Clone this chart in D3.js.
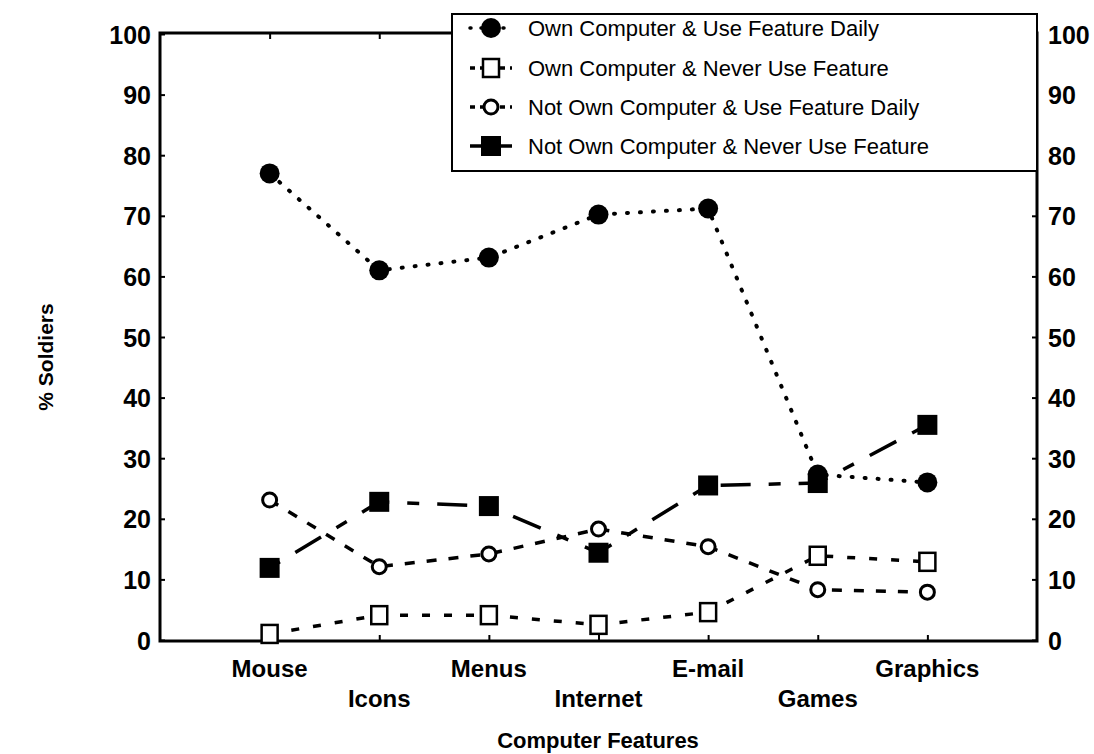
<!DOCTYPE html>
<html><head><meta charset="utf-8">
<script src="https://cdn.jsdelivr.net/npm/d3@7"></script>
<style>
body{margin:0;background:#fff;}
text{font-family:"Liberation Sans",Arial,sans-serif;fill:#000;}
</style></head>
<body><svg id="c" width="1094" height="754"></svg>
<script>
const categories = ["Mouse","Icons","Menus","Internet","E-mail","Games","Graphics"];
const yTicks = [0,10,20,30,40,50,60,70,80,90,100];
const seriesNames = [
  "Own Computer & Use Feature Daily",
  "Own Computer & Never Use Feature",
  "Not Own Computer & Use Feature Daily",
  "Not Own Computer & Never Use Feature"
];
const ownDaily    = [77.0, 61.0, 63.1, 70.2, 71.2, 27.3, 26.0];
const ownNever    = [1.0, 4.1, 4.1, 2.5, 4.6, 13.9, 12.9];
const notOwnDaily = [23.1, 12.1, 14.2, 18.3, 15.4, 8.3, 7.9];
const notOwnNever = [11.9, 22.8, 22.1, 14.4, 25.5, 25.9, 35.5];

const svg = d3.select("#c");
const L=160, R=1037, T=33, B=641;
const x = d3.scalePoint().domain(categories).range([L,R]).padding(1);
const y = d3.scaleLinear().domain([0,100]).range([640,34]);

const styles = [
  {data:ownDaily, marker:"circleF", dash:"1,12", width:4, cap:"round"},
  {data:ownNever, marker:"squareO", dash:"8,14", width:3.5, cap:"butt"},
  {data:notOwnDaily, marker:"circleO", dash:"10,12", width:3.5, cap:"butt"},
  {data:notOwnNever, marker:"squareF", dash:"12,18,30,18", width:3.5, cap:"butt"}
];

// frame
svg.append("rect").attr("x",L).attr("y",T).attr("width",R-L).attr("height",B-T)
  .attr("fill","none").attr("stroke","#000").attr("stroke-width",3);

const yl = d3.axisLeft(y).tickValues(yTicks).tickSize(-5).tickPadding(9).tickFormat(d3.format("d"));
const gl = svg.append("g").attr("transform",`translate(${L},0)`).call(yl);
const yr = d3.axisRight(y).tickValues(yTicks).tickSize(-5).tickPadding(11).tickFormat(d3.format("d"));
const gr = svg.append("g").attr("transform",`translate(${R},0)`).call(yr);
const xb = d3.axisBottom(x).tickSize(-6).tickFormat("");
const gb = svg.append("g").attr("transform",`translate(0,${B})`).call(xb);
const xt = d3.axisTop(x).tickSize(-6).tickFormat("");
const gt = svg.append("g").attr("transform",`translate(0,${T})`).call(xt);
[gl,gr,gb,gt].forEach(a=>{
  a.select(".domain").remove();
  a.selectAll(".tick line").attr("stroke","#000").attr("stroke-width",2);
  a.selectAll("text").style("font-size","25px").style("font-weight","bold").attr("dy","0.36em");
});

svg.append("g").selectAll("text").data(categories).join("text")
  .attr("x",d=>x(d)).attr("y",(d,i)=>i%2===0?677:707)
  .attr("text-anchor","middle").style("font-size","24px").style("font-weight","bold")
  .text(d=>d);

svg.append("text").attr("transform","translate(53,357) rotate(-90)")
  .attr("text-anchor","middle").style("font-size","21px").style("font-weight","bold").text("% Soldiers");
svg.append("text").attr("x",598).attr("y",748)
  .attr("text-anchor","middle").style("font-size","22px").style("font-weight","bold").text("Computer Features");

function drawMarker(sel, type, cx, cy){
  if(type==="circleF") sel.append("circle").attr("cx",cx).attr("cy",cy).attr("r",10).attr("fill","#000");
  if(type==="circleO") sel.append("circle").attr("cx",cx).attr("cy",cy).attr("r",7).attr("fill","#fff").attr("stroke","#000").attr("stroke-width",3);
  if(type==="squareO") sel.append("rect").attr("x",cx-8).attr("y",cy-9).attr("width",16).attr("height",18).attr("fill","#fff").attr("stroke","#000").attr("stroke-width",2.5);
  if(type==="squareF") sel.append("rect").attr("x",cx-10).attr("y",cy-10).attr("width",20).attr("height",20).attr("fill","#000");
}

const line = d3.line().x((d,i)=>x(categories[i])).y(d=>y(d));
const plot = svg.append("g");
styles.forEach(s=>{
  plot.append("path").attr("d",line(s.data)).attr("fill","none").attr("stroke","#000")
    .attr("stroke-width",s.width).attr("stroke-dasharray",s.dash).attr("stroke-linecap",s.cap);
});
styles.forEach(s=>{
  const gm = plot.append("g");
  s.data.forEach((v,i)=>drawMarker(gm,s.marker,x(categories[i]),y(v)));
});

const lg = svg.append("g");
lg.append("rect").attr("x",452).attr("y",14).attr("width",585).attr("height",157)
  .attr("fill","#fff").attr("stroke","#000").attr("stroke-width",2);
const rows=[28,68,107,146];
styles.forEach((s,i)=>{
  lg.append("line").attr("x1",470).attr("x2",512).attr("y1",rows[i]).attr("y2",rows[i])
    .attr("stroke","#000").attr("stroke-width",3.5).attr("stroke-dasharray",i===0?"1,10":(i===3?"40,0":"5,5"))
    .attr("stroke-linecap",i===0?"round":"butt");
  drawMarker(lg,s.marker,491,rows[i]);
  lg.append("text").attr("x",528).attr("y",rows[i]).attr("dy","0.35em")
    .style("font-size","22px").text(seriesNames[i]);
});
</script></body></html>
